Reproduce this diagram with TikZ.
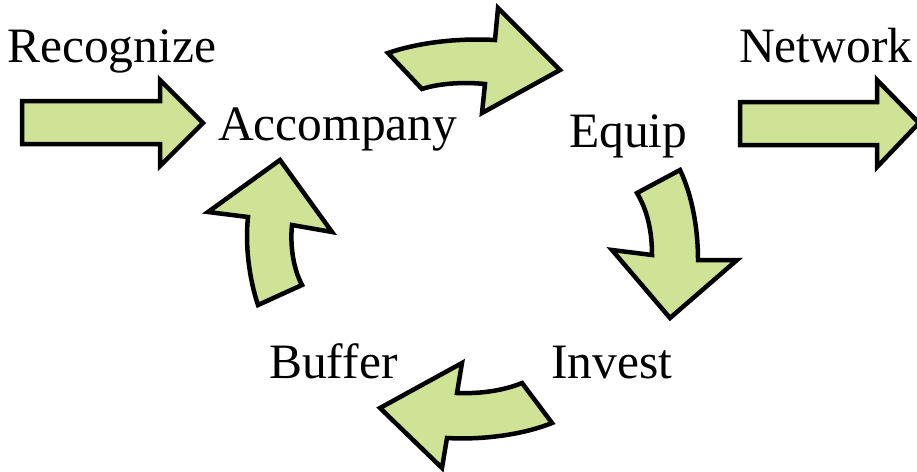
\documentclass[tikz,border=0pt]{standalone}
\usepackage{fontspec}
\setmainfont{Liberation Serif}
\definecolor{arrowfill}{RGB}{207,226,150}
\begin{document}
\begin{tikzpicture}[x=1pt,y=-1pt,
  shaft/.style={draw=black,fill=arrowfill,line width=4.5pt,line join=miter},
  lbl/.style={anchor=base west,inner sep=0pt,font=\fontsize{49.5}{59}\selectfont}]
\useasboundingbox (0,0) rectangle (917,471);
% straight arrows
\draw[shaft] (22,101) -- (160,101) -- (160,80) -- (203,123) -- (160,166) -- (160,144) -- (22,144) -- cycle;
\draw[shaft] (740,102) -- (877,102) -- (877,80) -- (919,123) -- (877,167) -- (877,145) -- (740,145) -- cycle;
% top curved arrow
\draw[shaft] (388,53) .. controls (420,42) and (460,38) .. (495,40) -- (498,8) -- (560,70) -- (482,113) -- (485,84)
  .. controls (465,82) and (440,83) .. (422,89) -- cycle;
% right curved arrow
\draw[shaft] (680,170) .. controls (692,195) and (698,228) .. (698,260) -- (737,260) -- (670,318) -- (612,250) -- (652,255)
  .. controls (652,230) and (647,210) .. (637,193) -- cycle;
% bottom curved arrow
\draw[shaft] (522,383) .. controls (505,390) and (482,394) .. (457,393) -- (462,363) -- (380,408) -- (442,468) -- (447,438)
  .. controls (482,440) and (522,435) .. (552,423) -- cycle;
% left curved arrow
\draw[shaft] (258,305) .. controls (249,278) and (245,245) .. (248,217) -- (208,212) -- (280,160) -- (332,232) -- (292,225)
  .. controls (290,245) and (293,268) .. (302,285) -- cycle;
% labels
\node[lbl] (recognize) at (7,62) {Recognize};
\node[lbl] (accompany) at (218,140) {Accompany};
\node[lbl] (equip) at (569,147) {Equip};
\node[lbl] (network) at (739,62) {Network};
\node[lbl] (buffer) at (269,378) {Buffer};
\node[lbl] (invest) at (551,378) {Invest};
\end{tikzpicture}
\end{document}
